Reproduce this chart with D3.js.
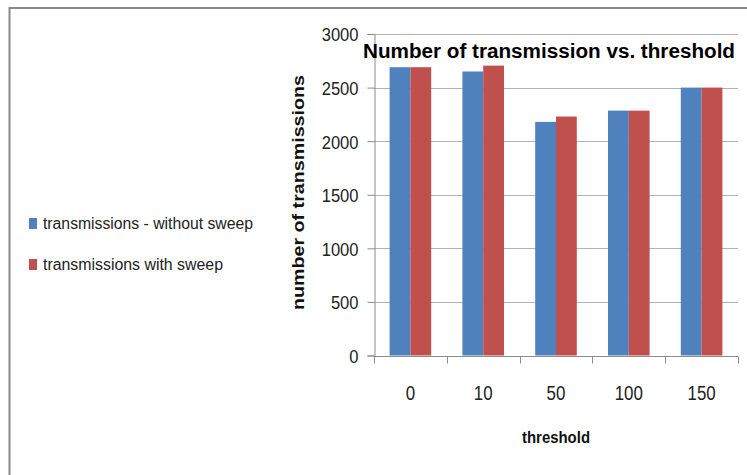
<!DOCTYPE html>
<html><head><meta charset="utf-8">
<script src="https://cdn.jsdelivr.net/npm/d3@7"></script>
<style>body{margin:0;background:#fff}svg{display:block}</style>
</head><body>
<svg id="c" width="747" height="475"></svg>
<script>
const categories = ["0", "10", "50", "100", "150"];
const seriesNames = ["transmissions - without sweep", "transmissions with sweep"];
const withoutSweep = [2690, 2650, 2180, 2285, 2500];
const withSweep = [2690, 2705, 2230, 2285, 2500];
const yTicks = [0, 500, 1000, 1500, 2000, 2500, 3000];
const colors = ["#4F81BD", "#C0504D"];
const title = "Number of transmission vs. threshold";
const xTitle = "threshold";
const yTitle = "number of transmissions";

const svg = d3.select("#c");
const F = "'Liberation Sans Narrow','Arial Narrow','Liberation Sans',sans-serif";

// frame (top and left)
svg.append("line").attr("x1", 9).attr("x2", 747).attr("y1", 8).attr("y2", 8).attr("stroke", "#8a8a8a").attr("stroke-width", 2);
svg.append("line").attr("x1", 9.5).attr("x2", 9.5).attr("y1", 7).attr("y2", 475).attr("stroke", "#8a8a8a").attr("stroke-width", 2);

const L = 374, R = 738, T = 34, B = 355.5;
const x = d3.scaleBand().domain(categories).range([L, R]).paddingInner(0).paddingOuter(0);
const xs = d3.scaleBand().domain([0, 1]).range([0, x.bandwidth()]).paddingInner(0).paddingOuter(0.75);
const y = d3.scaleLinear().domain([0, 3000]).range([B, T]);

// gridlines
svg.append("g").selectAll("line").data(yTicks.filter(d => d > 0)).join("line")
  .attr("x1", L).attr("x2", R).attr("y1", d => Math.round(y(d)) + 0.5).attr("y2", d => Math.round(y(d)) + 0.5)
  .attr("stroke", "#b3b3b3").attr("stroke-width", 1);

// bars
const data = categories.map((c, i) => ({c, v: [withoutSweep[i], withSweep[i]]}));
const g = svg.append("g");
data.forEach(d => {
  d.v.forEach((v, s) => {
    g.append("rect").attr("x", x(d.c) + xs(s)).attr("width", xs.bandwidth())
      .attr("y", y(v)).attr("height", y(0) - y(v)).attr("fill", colors[s]);
  });
});

// y axis
const yAxis = d3.axisLeft(y).tickValues(yTicks).tickFormat(d3.format("d")).tickSize(7).tickPadding(9);
const ya = svg.append("g").attr("transform", `translate(${L + 0.5},0)`).call(yAxis);
ya.select(".domain").attr("stroke", "#8c8c8c");
ya.selectAll(".tick line").attr("stroke", "#8c8c8c");
ya.selectAll(".tick text").attr("font-family", F).attr("font-size", 19).attr("fill", "#222").attr("dy", "0.36em")
  .attr("textLength", d => String(d).length * 9.2).attr("lengthAdjust", "spacingAndGlyphs");

// x axis
const xa = svg.append("g").attr("transform", `translate(0,${Math.round(B) + 0.5})`);
xa.append("line").attr("x1", L).attr("x2", R).attr("stroke", "#8c8c8c");
const bounds = categories.map(c => x(c)).concat([R]);
xa.selectAll("line.tk").data(bounds).join("line").attr("class", "tk")
  .attr("x1", d => Math.round(d) + 0.5).attr("x2", d => Math.round(d) + 0.5).attr("y1", 0).attr("y2", 7).attr("stroke", "#8c8c8c");
svg.append("g").selectAll("text").data(categories).join("text")
  .attr("x", d => x(d) + x.bandwidth() / 2).attr("y", 400).attr("text-anchor", "middle")
  .attr("font-family", F).attr("font-size", 20).attr("fill", "#222")
  .attr("textLength", d => d.length * 9.4).attr("lengthAdjust", "spacingAndGlyphs").text(d => d);

// titles
svg.append("text").attr("x", 363).attr("y", 58).attr("font-family", F).attr("font-weight", "bold")
  .attr("font-size", 20).attr("textLength", 372).attr("lengthAdjust", "spacingAndGlyphs").attr("fill", "#000").text(title);
svg.append("text").attr("x", 522).attr("y", 443).attr("font-family", F).attr("font-weight", "bold")
  .attr("font-size", 17).attr("textLength", 68).attr("lengthAdjust", "spacingAndGlyphs").attr("fill", "#111").text(xTitle);
svg.append("text").attr("transform", "translate(304,310) rotate(-90)").attr("x", 0).attr("y", 0)
  .attr("font-family", F).attr("font-weight", "bold").attr("font-size", 16)
  .attr("textLength", 235).attr("lengthAdjust", "spacingAndGlyphs").attr("fill", "#111").text(yTitle);

// legend
const legY = [218, 259];
const lengths = [210, 180];
seriesNames.forEach((n, i) => {
  svg.append("rect").attr("x", 29).attr("y", legY[i]).attr("width", 8).attr("height", 11).attr("fill", colors[i]);
  svg.append("text").attr("x", 43).attr("y", legY[i] + 11).attr("font-family", F).attr("font-size", 16)
    .attr("textLength", lengths[i]).attr("lengthAdjust", "spacingAndGlyphs").attr("fill", "#222").text(n);
});
</script>
</body></html>
